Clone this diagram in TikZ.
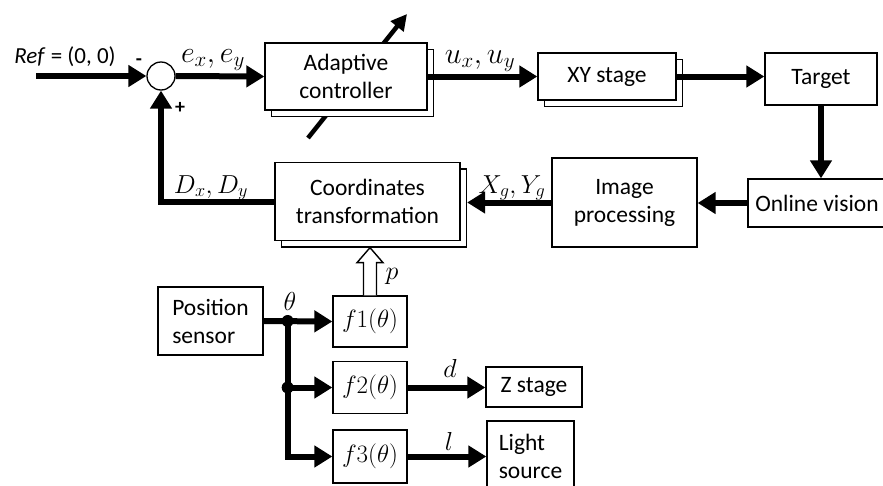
\RequirePackage{fix-cm}
\documentclass[tikz,border=0pt]{standalone}
\usepackage{fontspec}
\setmainfont{Carlito}
\usetikzlibrary{arrows.meta,shadows,calc}

\begin{document}
\begin{tikzpicture}[x=1pt,y=-1pt,
  box/.style={draw,line width=1.3pt,fill=white,inner sep=0pt,align=center,
    font=\fontsize{23.5}{28}\selectfont},
  stack/.style={box,copy shadow={shadow xshift=6.5pt,shadow yshift=-6.5pt,line width=1.3pt}},
  fbox/.style={box,minimum width=74pt,font=\fontsize{25}{30}\selectfont},
  sig/.style={line width=6pt,-{Triangle[length=18pt,width=21pt]}},
  gain/.style={line width=4.5pt,-{Triangle[length=16pt,width=16pt]}},
  hollow/.style={line width=1.4pt,fill=white,line join=miter},
  lbl/.style={inner sep=0pt,font=\fontsize{26}{30}\selectfont},
  biglbl/.style={inner sep=0pt,font=\fontsize{30}{34}\selectfont},
  sign/.style={inner sep=0pt,font=\fontsize{20}{20}\selectfont\bfseries}]
\useasboundingbox (0,0) rectangle (883,485);

% adjustable-gain arrow, passing behind the controller block
\coordinate (gainlo) at (308,138);
\coordinate (gainhi) at (407,14);
\draw[gain] (gainlo) -- (gainhi);

% blocks
\node[circle,draw,line width=1.3pt,fill=white,minimum size=28pt,inner sep=0pt] (sum) at (161,76) {};
\node[stack,minimum width=162pt,minimum height=67pt] (ctrl) at (346,76.5) {Adaptive\\controller};
\node[stack,minimum width=138pt,minimum height=47pt] (xy) at (607,76.5) {XY stage};
\node[box,minimum width=112pt,minimum height=52pt] (target) at (821,79) {Target};
\node[box,minimum width=138pt,minimum height=48pt] (online) at (817,203) {Online vision};
\node[box,minimum width=145pt,minimum height=89pt] (improc) at (624.5,202.5) {Image\\processing};
\node[stack,minimum width=185pt,minimum height=78pt] (coord) at (367.5,201.5) {Coordinates\\transformation};
\node[box,align=left,minimum width=105pt,minimum height=68pt] (pos) at (210.5,321) {Position\\sensor};
\node[fbox,minimum height=51pt] (f1) at (370,321.5) {$f1(\theta)$};
\node[fbox,minimum height=52pt] (f2) at (370,387.5) {$f2(\theta)$};
\node[fbox,minimum height=53pt] (f3) at (370,456.5) {$f3(\theta)$};
\node[box,minimum width=96pt,minimum height=40pt] (zst) at (534,387) {Z stage};
\node[box,align=left,minimum width=87pt,minimum height=70pt] (light) at (530.5,456) {Light\\source};

% main loop
\coordinate (refin) at (36,76);
\draw[sig] (refin) -- (sum.west);
\draw[sig] (sum.east) -- (ctrl.west);
\draw[sig] (ctrl.east) -- (xy.west);
\draw[sig] (xy.east) -- (xy.east -| target.west);
\draw[sig] (target.south) -- (target.south |- online.north);
\draw[sig] (online.west) -- (online.west -| improc.east);
\coordinate (coordback) at ([xshift=6.5pt]coord.east);
\draw[sig] (improc.west) -- (improc.west -| coordback);
\draw[sig] (coord.west) -| (sum.south);

% sensor branches
\coordinate (j1) at ($(pos.east)+(24,0)$);
\coordinate (j2) at (j1 |- f2.west);
\draw[sig] (pos.east) -- (f1.west);
\draw[sig] (j1) |- (f3.west);
\draw[sig] (j2) -- (f2.west);
\fill (j1) circle (6pt);
\fill (j2) circle (6pt);
\draw[sig] (f2.east) -- (f2.east -| zst.west);
\draw[sig] (f3.east) -- (f3.east -| light.west);

% hollow arrow carrying p into the transformation block
\coordinate (ptip) at ([yshift=-6.5pt]coord.south -| f1.north);
\draw[hollow] ($(f1.north)+(-6.5,0)$) -- ($(ptip)+(-6.5,15)$) -- ($(ptip)+(-13,15)$)
  -- (ptip) -- ($(ptip)+(13,15)$) -- ($(ptip)+(6.5,15)$) -- ($(f1.north)+(6.5,0)$);

% labels
\node[inner sep=0pt,anchor=base,font=\fontsize{23}{30}\selectfont] (reflbl) at (65,63) {\textit{Ref} = (0, 0)};
\node[sign] (minus) at (139,62) {-};
\node[sign] (plus) at (180,108) {+};
\node[biglbl,anchor=base] (elbl) at (213,62) {$e_x,e_y$};
\node[biglbl,anchor=base] (ulbl) at (480,63) {$u_x,u_y$};
\node[lbl,anchor=base] (xglbl) at (512,193) {$X_g,Y_g$};
\node[lbl,anchor=base] (dlbl) at (211,193) {$D_x,D_y$};
\node[lbl] (thlbl) at (290,301) {$\theta$};
\node[lbl] (plbl) at (392,276) {$p$};
\node[lbl] (dlbl2) at (450,368) {$d$};
\node[lbl] (llbl) at (449,441) {$l$};
\end{tikzpicture}
\end{document}
